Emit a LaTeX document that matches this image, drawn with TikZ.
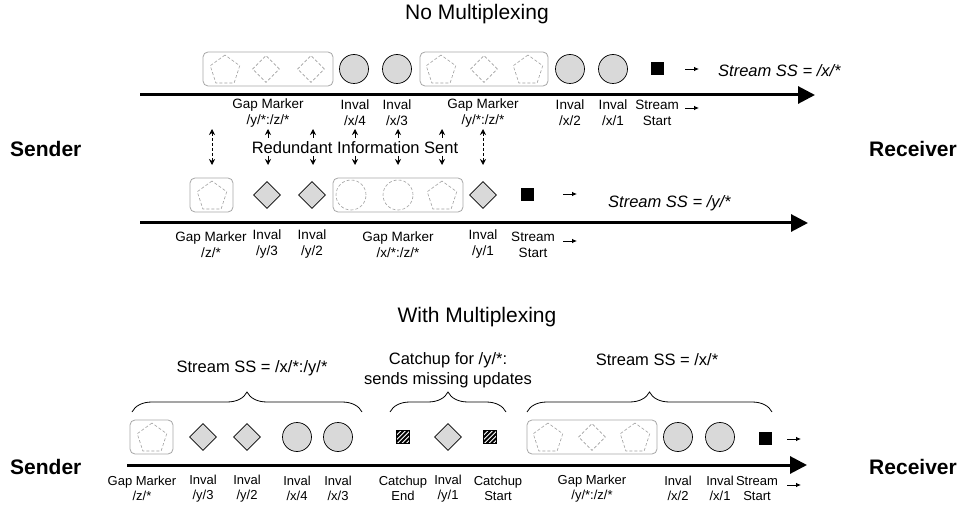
\documentclass[tikz,border=0pt]{standalone}
\usepackage{fontspec}
\setmainfont{Liberation Sans}
\usetikzlibrary{shapes.geometric,arrows.meta,decorations.pathreplacing}
\tikzset{
  gcirc/.style={circle, draw=black, line width=0.7pt, fill=gray!30, minimum size=29pt, inner sep=0pt},
  gdia/.style={diamond, draw=black, line width=0.7pt, fill=gray!30, minimum width=27pt, minimum height=27pt, inner sep=0pt},
  dpent/.style={regular polygon, regular polygon sides=5, draw=gray!75, dash pattern=on 3pt off 2pt, line width=0.6pt, minimum size=31pt, inner sep=0pt},
  ddia/.style={diamond, draw=gray!75, dash pattern=on 3pt off 2pt, line width=0.6pt, minimum width=27pt, minimum height=27pt, inner sep=0pt},
  dcirc/.style={circle, draw=gray!75, dash pattern=on 3pt off 2pt, line width=0.6pt, minimum size=30pt, inner sep=0pt},
  gbox/.style={rectangle, rounded corners=5pt, draw=gray!70, line width=0.8pt, minimum height=34pt, inner sep=0pt},
  bsq/.style={rectangle, fill=black, minimum size=13pt, inner sep=0pt},
  hsq/.style={rectangle, draw=black, line width=0.6pt, minimum size=13pt, inner sep=0pt,
    path picture={\foreach \k in {-15,-10.5,...,15} \draw[line width=2pt] ([xshift=\k pt]path picture bounding box.south west) -- ++(18pt,18pt);}},
  lbl/.style={align=center, font=\fontsize{13.5}{16}\selectfont, inner sep=0pt},
  lbls/.style={align=center, font=\fontsize{13}{15}\selectfont, inner sep=0pt},
  axisline/.style={line width=3pt, -{Triangle[length=17pt,width=17pt]}},
  smallarr/.style={line width=0.8pt, -{Latex[length=5pt,width=4.5pt]}},
  redarr/.style={line width=0.8pt, -{Stealth[length=6pt,width=6pt]}},
  ttl/.style={font=\fontsize{21}{25}\selectfont},
  sidelbl/.style={font=\bfseries\fontsize{21}{25}\selectfont, inner sep=0pt},
  midtxt/.style={font=\fontsize{16.5}{20}\selectfont, inner sep=0pt, align=center},
  bracedec/.style={decorate, decoration={brace, amplitude=20pt}, line width=0.8pt}
}
\begin{document}
\begin{tikzpicture}[x=1pt,y=-1pt]
\useasboundingbox (0,0) rectangle (959,505);

% ---------- titles and sides ----------
\node[ttl] (t1) at (477,14) {No Multiplexing};
\node[ttl] (t2) at (477,317) {With Multiplexing};
\node[sidelbl, anchor=west] (snd1) at (10,149) {Sender};
\node[sidelbl, anchor=east] (rcv1) at (957,149) {Receiver};
\node[sidelbl, anchor=west] (snd2) at (10,467) {Sender};
\node[sidelbl, anchor=east] (rcv2) at (957,467) {Receiver};

% ---------- top row: stream /x/* ----------
\node[gbox, minimum width=130pt] (tb1) at (268,69) {};
\node[dpent] (tb1a) at (225,70.5) {};
\node[ddia] (tb1b) at (266,69) {};
\node[ddia] (tb1c) at (311,69) {};
\node[gcirc] (tc1) at (354,69) {};
\node[gcirc] (tc2) at (397,69) {};
\node[gbox, minimum width=128pt] (tb2) at (484,69) {};
\node[dpent] (tb2a) at (441,70.5) {};
\node[ddia] (tb2b) at (484,69) {};
\node[dpent] (tb2c) at (528,70.5) {};
\node[gcirc] (tc3) at (570,69) {};
\node[gcirc] (tc4) at (613,69) {};
\node[bsq] (tsq) at (657,69) {};
\coordinate (tarA) at (685,69); \coordinate (tarB) at (699,69);
\draw[smallarr] (tarA) -- (tarB);
\node[midtxt, anchor=west, font=\itshape\fontsize{16.5}{20}\selectfont] (tss) at (718,71) {Stream SS = /x/*};
\coordinate (ax1s) at (140,95); \coordinate (ax1e) at (815,95);
\draw[axisline] (ax1s) -- (ax1e);
\node[lbl] (tl1) at (268,113) {Gap Marker\\/y/*:/z/*};
\node[lbl] (tl2) at (355,113) {Inval\\/x/4};
\node[lbl] (tl3) at (397,113) {Inval\\/x/3};
\node[lbl] (tl4) at (483,113) {Gap Marker\\/y/*:/z/*};
\node[lbl] (tl5) at (570,113) {Inval\\/x/2};
\node[lbl] (tl6) at (613,113) {Inval\\/x/1};
\node[lbl] (tl7) at (657,113) {Stream\\Start};
\coordinate (tlaA) at (685,108); \coordinate (tlaB) at (699,108);
\draw[smallarr] (tlaA) -- (tlaB);

% ---------- redundant arrows ----------
\node[midtxt] (red) at (355,148) {Redundant Information Sent};
\foreach \x [count=\i] in {268,313,355,398,442,483} {
  \coordinate (ru\i a) at (\x,138); \coordinate (ru\i b) at (\x,129);
  \coordinate (rd\i a) at (\x,156); \coordinate (rd\i b) at (\x,165);
}
\foreach \i in {1,...,5} {
  \draw[redarr] (ru\i a) -- (ru\i b);
  \draw[redarr] (rd\i a) -- (rd\i b);
}
\coordinate (rdl1) at (212,129); \coordinate (rdl2) at (212,165);
\coordinate (rdr1) at (483,129); \coordinate (rdr2) at (483,165);
\draw[redarr, {Stealth[length=6pt,width=6pt]}-{Stealth[length=6pt,width=6pt]}, dash pattern=on 3pt off 2pt] (rdl1) -- (rdl2);
\draw[redarr, {Stealth[length=6pt,width=6pt]}-{Stealth[length=6pt,width=6pt]}, dash pattern=on 3pt off 2pt] (rdr1) -- (rdr2);

% ---------- middle row: stream /y/* ----------
\node[gbox, minimum width=43pt] (mb1) at (211.5,195) {};
\node[dpent] (mb1a) at (212,196.5) {};
\node[gdia] (md1) at (267,195) {};
\node[gdia] (md2) at (312,195) {};
\node[gbox, minimum width=130pt] (mb2) at (398,195) {};
\node[dcirc] (mb2a) at (351,195) {};
\node[dcirc] (mb2b) at (398,195) {};
\node[dpent] (mb2c) at (442,196.5) {};
\node[gdia] (md3) at (483,195) {};
\node[bsq] (msq) at (527,195) {};
\coordinate (marA) at (563,194); \coordinate (marB) at (577,194);
\draw[smallarr] (marA) -- (marB);
\node[midtxt, anchor=west, font=\itshape\fontsize{16.5}{20}\selectfont] (mss) at (608,203) {Stream SS = /y/*};
\coordinate (ax2s) at (140,223); \coordinate (ax2e) at (808,223);
\draw[axisline] (ax2s) -- (ax2e);
\node[lbl] (ml1) at (211,244.5) {Gap Marker\\/z/*};
\node[lbl] (ml2) at (267,244.5) {Inval\\/y/3};
\node[lbl] (ml3) at (312,244.5) {Inval\\/y/2};
\node[lbl] (ml4) at (398,244.5) {Gap Marker\\/x/*:/z/*};
\node[lbl] (ml5) at (483,244.5) {Inval\\/y/1};
\node[lbl] (ml6) at (533,244.5) {Stream\\Start};
\coordinate (mlaA) at (563,241); \coordinate (mlaB) at (577,241);
\draw[smallarr] (mlaA) -- (mlaB);

% ---------- bottom: with multiplexing ----------
\node[midtxt] (bt1) at (252,368) {Stream SS = /x/*:/y/*};
\node[midtxt] (bt2) at (448,370) {Catchup for /y/*:\\sends missing updates};
\node[midtxt] (bt3) at (657,360) {Stream SS = /x/*};
\coordinate (br1a) at (132,412); \coordinate (br1b) at (362,412);
\coordinate (br2a) at (390,412); \coordinate (br2b) at (506,412);
\coordinate (br3a) at (527,412); \coordinate (br3b) at (772,412);
\draw[bracedec] (br1a) -- (br1b);
\draw[bracedec] (br2a) -- (br2b);
\draw[bracedec] (br3a) -- (br3b);

\node[gbox, minimum width=43pt] (bb1) at (151.5,437) {};
\node[dpent] (bb1a) at (152,438.5) {};
\node[gdia] (bd1) at (203,437) {};
\node[gdia] (bd2) at (247,437) {};
\node[gcirc] (bc1) at (297,437) {};
\node[gcirc] (bc2) at (338,437) {};
\node[hsq] (bh1) at (403,437) {};
\node[gdia] (bd3) at (448,437) {};
\node[hsq] (bh2) at (490,437) {};
\node[gbox, minimum width=130pt] (bb2) at (592,437) {};
\node[dpent] (bb2a) at (548,438.5) {};
\node[ddia] (bb2b) at (592,437) {};
\node[dpent] (bb2c) at (635,438.5) {};
\node[gcirc] (bc3) at (678,437) {};
\node[gcirc] (bc4) at (720,437) {};
\node[bsq] (bsqr) at (765,438) {};
\coordinate (barA) at (787,439); \coordinate (barB) at (801,439);
\draw[smallarr] (barA) -- (barB);
\coordinate (ax3s) at (127,465); \coordinate (ax3e) at (807,465);
\draw[axisline] (ax3s) -- (ax3e);
\node[lbls] (bl1) at (142,488.5) {Gap Marker\\/z/*};
\node[lbls] (bl2) at (203,488.5) {Inval\\/y/3};
\node[lbls] (bl3) at (247,488.5) {Inval\\/y/2};
\node[lbls] (bl4) at (297,488.5) {Inval\\/x/4};
\node[lbls] (bl5) at (338,488.5) {Inval\\/x/3};
\node[lbls] (bl6) at (403,488.5) {Catchup\\End};
\node[lbls] (bl7) at (448,488.5) {Inval\\/y/1};
\node[lbls] (bl8) at (498,488.5) {Catchup\\Start};
\node[lbls] (bl9) at (592,488.5) {Gap Marker\\/y/*:/z/*};
\node[lbls] (bl10) at (678,488.5) {Inval\\/x/2};
\node[lbls] (bl11) at (720,488.5) {Inval\\/x/1};
\node[lbls] (bl12) at (757,488.5) {Stream\\Start};
\coordinate (blaA) at (787,485); \coordinate (blaB) at (801,485);
\draw[smallarr] (blaA) -- (blaB);
\end{tikzpicture}
\end{document}
